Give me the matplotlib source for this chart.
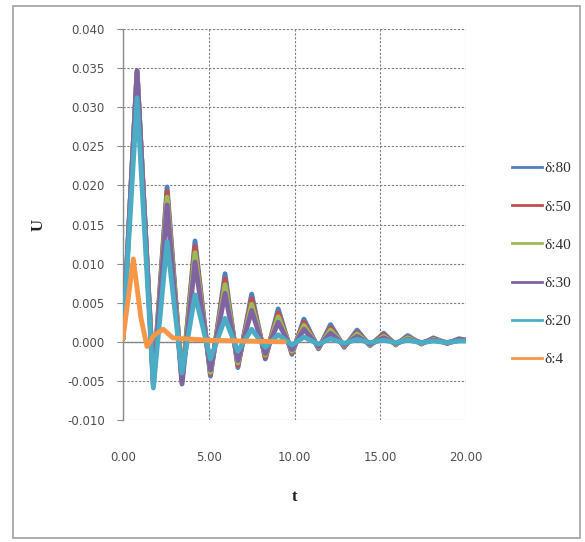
import matplotlib
matplotlib.use("Agg")
import matplotlib.pyplot as plt
from matplotlib.patches import Rectangle
from matplotlib.lines import Line2D

# ---- data ----
t_osc = [0.0, 0.82, 1.77, 2.57, 3.44, 4.2, 5.1, 5.95, 6.7, 7.5, 8.3, 9.05, 9.85,
         10.55, 11.4, 12.1, 12.9, 13.65, 14.4, 15.2, 15.9, 16.6, 17.4, 18.1, 18.9, 19.6, 20.0]

u_d80 = [0.0004, 0.0345, -0.0050, 0.0198, -0.0050, 0.0129, -0.0044, 0.0087, -0.0033, 0.0061,
         -0.0022, 0.0042, -0.0016, 0.0029, -0.0009, 0.0022, -0.0007, 0.0015, -0.0005, 0.0011,
         -0.0004, 0.0008, -0.0003, 0.0005, -0.0002, 0.0004, 0.0002]
u_d50 = [0.0004, 0.0345, -0.0052, 0.0192, -0.0050, 0.0122, -0.0041, 0.0080, -0.0030, 0.0055,
         -0.0020, 0.0037, -0.0014, 0.0025, -0.0008, 0.0018, -0.0006, 0.0012, -0.0004, 0.0009,
         -0.0003, 0.0006, -0.0002, 0.0004, -0.0002, 0.0003, 0.0002]
u_d40 = [0.0004, 0.0346, -0.0054, 0.0185, -0.0051, 0.0114, -0.0039, 0.0073, -0.0027, 0.0048,
         -0.0017, 0.0032, -0.0012, 0.0021, -0.0007, 0.0015, -0.0005, 0.0010, -0.0004, 0.0007,
         -0.0003, 0.0005, -0.0002, 0.0003, -0.0001, 0.0002, 0.0002]
u_d30 = [0.0004, 0.0347, -0.0056, 0.0175, -0.0054, 0.0102, -0.0036, 0.0062, -0.0024, 0.0040,
         -0.0015, 0.0025, -0.0010, 0.0016, -0.0006, 0.0011, -0.0004, 0.0007, -0.0003, 0.0005,
         -0.0002, 0.0003, -0.0001, 0.0002, -0.0001, 0.0002, 0.0002]
u_d20 = [0.0004, 0.0312, -0.0059, 0.0128, -0.0040, 0.0060, -0.0022, 0.0030, -0.0012, 0.0016,
         -0.0007, 0.0009, -0.0004, 0.0006, -0.0003, 0.0004, -0.0002, 0.0003, -0.0001, 0.0002,
         -0.0001, 0.0002, -0.0001, 0.0001, -0.0001, 0.0001, 0.0001]

t_d4 = [0.0, 0.6, 1.05, 1.4, 1.8, 2.35, 2.9, 3.5, 5.0, 7.0, 9.4]
u_d4 = [0.0004, 0.0106, 0.0030, -0.0006, 0.0008, 0.0016, 0.0005, 0.0004, 0.0002, 0.0001, 0.0000]

series_labels = ["δ:80", "δ:50", "δ:40", "δ:30", "δ:20", "δ:4"]
series_colors = ["#4F81BD", "#C0504D", "#9BBB59", "#8064A2", "#4BACC6", "#F79646"]

x_ticks = [0, 5, 10, 15, 20]
x_tick_labels = ["0.00", "5.00", "10.00", "15.00", "20.00"]
y_ticks = [-0.010, -0.005, 0.000, 0.005, 0.010, 0.015, 0.020, 0.025, 0.030, 0.035, 0.040]
y_tick_labels = ["-0.010", "-0.005", "0.000", "0.005", "0.010", "0.015", "0.020",
                 "0.025", "0.030", "0.035", "0.040"]

# ---- figure ----
W, H = 585, 542
fig = plt.figure(figsize=(W / 100, H / 100), dpi=100)
fig.patch.set_facecolor("white")

# outer chart border
fig.patches.append(Rectangle((13 / W, 1 - 538 / H), (580 - 13) / W, (538 - 6) / H,
                             transform=fig.transFigure, fill=False,
                             edgecolor="#A0A0A0", linewidth=1.2))

left, right, top, bottom = 123, 466, 29, 420
ax = fig.add_axes([left / W, 1 - bottom / H, (right - left) / W, (bottom - top) / H])

ax.set_xlim(0, 20)
ax.set_ylim(-0.010, 0.040)

ys = [u_d80, u_d50, u_d40, u_d30, u_d20]
for y, col in zip(ys, series_colors[:5]):
    ax.plot(t_osc, y, color=col, lw=3.5, solid_joinstyle="round", solid_capstyle="round", zorder=3)
ax.plot(t_d4, u_d4, color=series_colors[5], lw=3.5, solid_joinstyle="round",
        solid_capstyle="round", zorder=3)

handles = [Line2D([0], [0], color=col, lw=2.0, label=lab)
           for lab, col in zip(series_labels, series_colors)]

# grid
ax.set_xticks(x_ticks)
ax.set_xticklabels(x_tick_labels)
ax.set_yticks(y_ticks)
ax.set_yticklabels(y_tick_labels)
ax.grid(True, color="#7F7F7F", linestyle=(0, (2, 1.5)), linewidth=0.8, zorder=0)
ax.axhline(0, color="#8C8C8C", lw=1.0, zorder=1)

for s in ["top", "right", "bottom"]:
    ax.spines[s].set_visible(False)
ax.spines["left"].set_color("#8C8C8C")
ax.spines["left"].set_linewidth(1.0)

ax.tick_params(axis="y", direction="out", length=4, color="#8C8C8C", pad=9,
               labelsize=8.5, labelcolor="#505050")
ax.tick_params(axis="x", length=0, pad=22, labelsize=8.5, labelcolor="#505050")
for lbl in ax.get_xticklabels() + ax.get_yticklabels():
    lbl.set_fontfamily("DejaVu Sans")

fig.text(39 / W, 1 - 225 / H, "U", rotation=90, ha="center", va="center",
         fontsize=12, fontweight="bold", family="Liberation Serif", color="#202020")
fig.text(294 / W, 1 - 497 / H, "t", ha="center", va="center",
         fontsize=12, fontweight="bold", family="Liberation Serif", color="#202020")

leg = fig.legend(handles=handles, loc="upper left", bbox_to_anchor=(498 / W, 1 - 148 / H),
                 frameon=False, handlelength=2.0, handletextpad=0.15, labelspacing=1.6,
                 prop={"family": "Liberation Serif", "size": 11})
for txt in leg.get_texts():
    txt.set_color("#303030")

fig.savefig("out.png", dpi=100)
